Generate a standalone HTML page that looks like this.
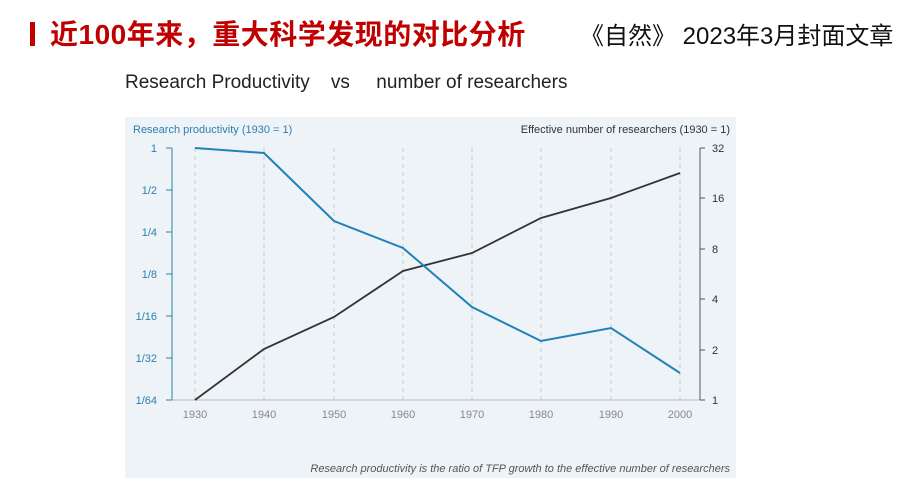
<!DOCTYPE html>
<html><head><meta charset="utf-8"><style>
body{margin:0;width:920px;height:499px;background:#fff;overflow:hidden;position:relative;font-family:"Liberation Sans","Noto Sans CJK SC",sans-serif}
.t{position:absolute;white-space:nowrap}
</style></head><body>
<div class="t" style="left:30px;top:22px;width:5px;height:24px;background:#c00000"></div>
<div class="t" style="left:50px;top:13px;font-size:28px;font-weight:bold;color:#c00000;letter-spacing:0.5px">近100年来，重大科学发现的对比分析</div>
<div class="t" style="left:580px;top:16px;font-size:24px;color:#111">《自然》 2023年3月封面文章</div>
<div class="t" style="left:125px;top:72px;font-size:19px;color:#222">Research Productivity &nbsp;&nbsp; vs &nbsp;&nbsp;&nbsp; number of researchers</div>
<svg class="t" style="left:0;top:0" width="920" height="499">
<rect x="125" y="117" width="611" height="361" fill="#eef3f8"/>
<g font-family="Liberation Sans,sans-serif" font-size="11">
<text x="133" y="133" fill="#2a7fb0">Research productivity (1930 = 1)</text>
<text x="730" y="133" fill="#333" text-anchor="end">Effective number of researchers (1930 = 1)</text>
</g>
<g stroke="#c8c8c8" stroke-dasharray="4,4" stroke-width="1">
<line x1="195" y1="148" x2="195" y2="400"/><line x1="264" y1="148" x2="264" y2="400"/><line x1="334" y1="148" x2="334" y2="400"/><line x1="403" y1="148" x2="403" y2="400"/><line x1="472" y1="148" x2="472" y2="400"/><line x1="541" y1="148" x2="541" y2="400"/><line x1="611" y1="148" x2="611" y2="400"/><line x1="680" y1="148" x2="680" y2="400"/>
</g>
<line x1="172" y1="148" x2="172" y2="400" stroke="#2a7fb0"/>
<line x1="172" y1="400" x2="700" y2="400" stroke="#bbb"/>
<line x1="700" y1="148" x2="700" y2="400" stroke="#555"/>
<g stroke="#2a7fb0"><line x1="166" y1="148" x2="172" y2="148"/><line x1="166" y1="190" x2="172" y2="190"/><line x1="166" y1="232" x2="172" y2="232"/><line x1="166" y1="274" x2="172" y2="274"/><line x1="166" y1="316" x2="172" y2="316"/><line x1="166" y1="358" x2="172" y2="358"/><line x1="166" y1="400" x2="172" y2="400"/></g>
<g stroke="#555"><line x1="700" y1="148" x2="705" y2="148"/><line x1="700" y1="198" x2="705" y2="198"/><line x1="700" y1="249" x2="705" y2="249"/><line x1="700" y1="299" x2="705" y2="299"/><line x1="700" y1="350" x2="705" y2="350"/><line x1="700" y1="400" x2="705" y2="400"/></g>
<g font-family="Liberation Sans,sans-serif" font-size="11" fill="#2a7fb0" text-anchor="end">
<text x="157" y="152">1</text><text x="157" y="194">1/2</text><text x="157" y="236">1/4</text><text x="157" y="278">1/8</text><text x="157" y="320">1/16</text><text x="157" y="362">1/32</text><text x="157" y="404">1/64</text>
</g>
<g font-family="Liberation Sans,sans-serif" font-size="11" fill="#333">
<text x="712" y="152">32</text><text x="712" y="202">16</text><text x="712" y="253">8</text><text x="712" y="303">4</text><text x="712" y="354">2</text><text x="712" y="404">1</text>
</g>
<g font-family="Liberation Sans,sans-serif" font-size="11" fill="#888" text-anchor="middle">
<text x="195" y="418">1930</text><text x="264" y="418">1940</text><text x="334" y="418">1950</text><text x="403" y="418">1960</text><text x="472" y="418">1970</text><text x="541" y="418">1980</text><text x="611" y="418">1990</text><text x="680" y="418">2000</text>
</g>
<polyline fill="none" stroke="#333" stroke-width="1.8" points="195,400 264,349 334,317 403,271 472,253 541,218 611,198 680,173"/>
<polyline fill="none" stroke="#2182b8" stroke-width="2" points="195,148 264,153 334,221 403,248 472,307 541,341 611,328 680,373"/>
<text x="730" y="472" font-family="Liberation Sans,sans-serif" font-size="11" font-style="italic" fill="#555" text-anchor="end">Research productivity is the ratio of TFP growth to the effective number of researchers</text>
</svg>
</body></html>
